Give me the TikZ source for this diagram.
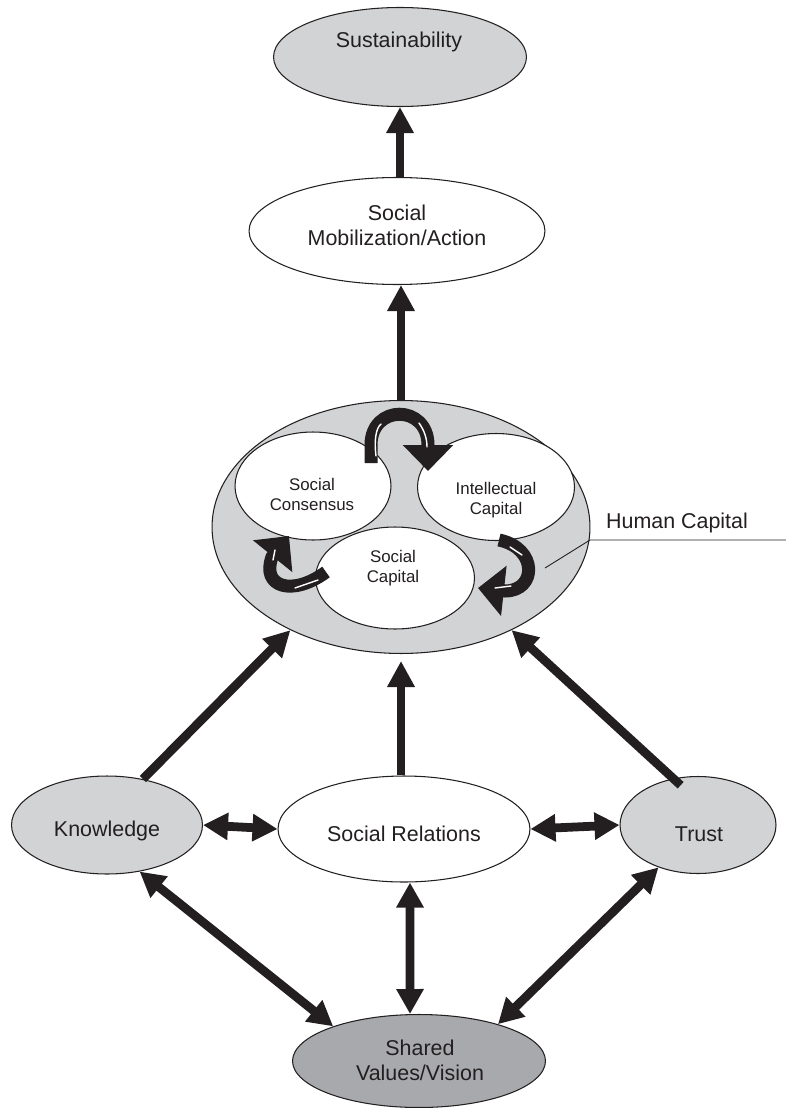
\documentclass[tikz,border=0pt]{standalone}
\usepackage{fontspec}
\setmainfont{Liberation Sans}
\usetikzlibrary{shapes.geometric,arrows.meta}
\definecolor{ink}{HTML}{231F20}
\definecolor{lightfill}{HTML}{D1D3D4}
\definecolor{darkfill}{HTML}{A7A9AC}

\begin{document}
\begin{tikzpicture}[x=0.02cm, y=-0.02cm,
  oval/.style={draw=ink, ellipse, line width=0.6pt, inner sep=0pt},
  grayoval/.style={oval, fill=lightfill},
  whiteoval/.style={oval, fill=white},
  darkoval/.style={oval, fill=darkfill},
  txt/.style={text=ink, align=center, font=\fontsize{12.2}{14.2}\selectfont},
  smalltxt/.style={text=ink, align=center, font=\fontsize{9.6}{11.4}\selectfont},
  bigarrow/.style={draw=ink, line width=5pt, -{Triangle[width=0.52cm,length=0.52cm]}},
  twoway/.style={bigarrow, {Triangle[width=0.52cm,length=0.5cm]}-{Triangle[width=0.52cm,length=0.5cm]}},
  cyclearrow/.style={draw=ink, line width=7.4pt, -{Triangle[width=0.98cm,length=0.52cm]}},
  shine/.style={draw=white, line width=0.8pt, line cap=round},
]
  \useasboundingbox (0,0) rectangle (786,1108);

  % Top
  \node[grayoval, minimum width=5.06cm, minimum height=1.98cm] (sus) at (400,57) {};
  \node[txt] (sustxt) at (399,42) {Sustainability};
  \node[whiteoval, minimum width=5.92cm, minimum height=2.14cm] (mob) at (397,231) {};
  \node[txt] (mobtxt) at (397,225) {Social\\Mobilization/Action};

  % Human capital
  \node[grayoval, minimum width=7.56cm, minimum height=5.06cm] (hc) at (401,527) {};
  \node[whiteoval, minimum width=3.12cm, minimum height=2.16cm] (scon) at (313,486) {};
  \node[whiteoval, minimum width=3.14cm, minimum height=2.14cm] (icap) at (496,487) {};
  \node[whiteoval, minimum width=3.18cm, minimum height=2.04cm] (scap) at (395,578) {};
  \node[smalltxt] (scontxt) at (312,494) {Social\\Consensus};
  \node[smalltxt] (icaptxt) at (496,500) {Intellectual\\Capital};
  \node[smalltxt] (scaptxt) at (393,568) {Social\\Capital};

  \coordinate (hcpin) at (545,568);
  \coordinate (hcbend) at (590,540);
  \coordinate (hcend) at (786,540);
  \node[txt] (hclabel) at (677,523) {Human Capital};
  \draw[ink, line width=0.5pt] (hcpin) -- (hcbend) -- (hcend);

  % Bottom
  \node[grayoval, minimum width=3.82cm, minimum height=1.96cm] (know) at (107,825) {};
  \node[txt] (knowtxt) at (107,831) {Knowledge};
  \node[whiteoval, minimum width=5.04cm, minimum height=2.12cm] (srel) at (404,829) {};
  \node[txt] (sreltxt) at (404,834) {Social Relations};
  \node[grayoval, minimum width=3.12cm, minimum height=1.94cm] (trust) at (698,825) {};
  \node[txt] (trusttxt) at (699,834) {Trust};
  \node[darkoval, minimum width=5.06cm, minimum height=1.86cm] (shared) at (419,1061) {};
  \node[txt] (sharedtxt) at (420,1060) {Shared\\Values/Vision};

  % Cycle inside human capital
  \draw[cyclearrow] (371,463) -- (371,445) .. controls (371,404) and (428,404) .. (428,445) -- (428,471);
  \draw[cyclearrow] (499,540) .. controls (538,548) and (537,591) .. (505,591) -- (478,588);
  \draw[cyclearrow] (326,572) .. controls (292,597) and (261,587) .. (272,557) -- (289,536);
  \draw[shine] (376,456) .. controls (374,440) and (376,428) .. (381,424);
  \draw[shine] (419,423) .. controls (424,430) and (427,438) .. (427,447);
  \draw[shine] (510,547) -- (522,555);
  \draw[shine] (495,588) -- (511,586);
  \draw[shine] (275,550) -- (273,560);
  \draw[shine] (295,588) -- (318,580);

  % Arrows
  \draw[bigarrow] (sus.south |- mob.north) -- (sus.south);
  \draw[bigarrow] (hc.north) -- (hc.north |- mob.south);
  \draw[bigarrow] (know.52) -- (hc.223);
  \draw[bigarrow, shorten >=0.14cm] (hc.south |- srel.north) -- (hc.south);
  \draw[bigarrow, shorten <=-0.2cm] (trust.118) -- (hc.317);
  \draw[twoway] (know.east) -- (srel.west);
  \draw[twoway] (srel.east) -- (trust.west);
  \draw[twoway] (know.-55) -- (shared.158);
  \draw[twoway] ([xshift=0.12cm]srel.south) -- ([xshift=-0.18cm]shared.north);
  \draw[twoway] (trust.227) -- (shared.25);
\end{tikzpicture}
\end{document}
